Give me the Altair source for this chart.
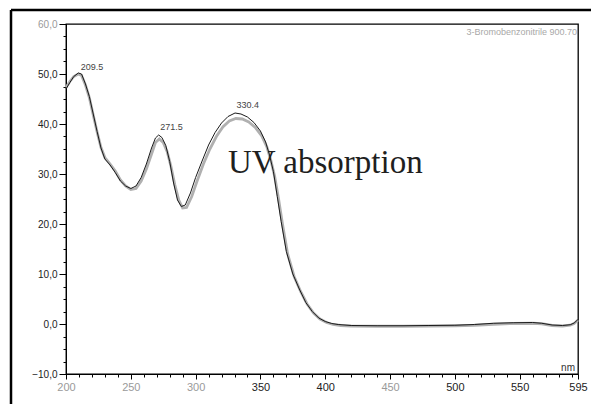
import altair as alt
import pandas as pd

# ---- data ----
black_nm = [200, 203, 206, 209.5, 212, 215, 218, 221, 224, 227, 230, 234, 238, 242, 246, 250,
            254, 258, 262, 266, 269, 271.5, 274, 277, 280, 283, 286, 289, 292, 296, 300, 305,
            310, 315, 320, 325, 330.4, 335, 340, 345, 350, 354, 357, 360, 363, 366, 370, 375,
            380, 385, 390, 395, 400, 405, 410, 420, 440, 460, 480, 500, 515, 530, 545, 560,
            567, 575, 583, 589, 592, 595]
black_val = [47.0, 48.3, 49.5, 50.2, 50.0, 48.0, 45.5, 42.0, 38.5, 35.2, 33.0, 31.8, 30.3, 28.6, 27.6, 27.1,
             27.6, 29.3, 32.0, 35.2, 37.2, 37.8, 37.3, 35.7, 32.5, 28.2, 24.8, 23.5, 23.8, 26.2, 29.3, 32.6,
             35.8, 38.3, 40.2, 41.5, 42.2, 42.0, 41.4, 40.3, 38.6, 36.4, 33.8, 30.5, 25.5, 20.5, 14.5, 10.0,
             7.0, 4.3, 2.5, 1.2, 0.5, 0.1, -0.1, -0.3, -0.35, -0.35, -0.3, -0.25, -0.1, 0.15, 0.25, 0.3,
             0.15, -0.2, -0.3, -0.15, 0.2, 0.9]

gray_nm = [200, 203, 206, 209.5, 212, 215, 218, 221, 224, 227, 230, 234, 238, 242, 246, 250,
           254, 258, 262, 266, 269, 272, 275, 278, 281, 284, 287, 290, 293, 297, 301, 306,
           311, 316, 321, 326, 331, 336, 341, 346, 351, 355, 358, 361, 364, 367, 371, 376,
           381, 386, 391, 396, 401, 406, 412, 420, 440, 460, 480, 500, 515, 530, 545, 560,
           567, 575, 583, 589, 592, 595]
gray_val = [47.3, 48.5, 49.5, 50.0, 49.7, 47.8, 45.3, 41.8, 38.4, 35.3, 33.3, 32.0, 30.6, 28.8, 27.6, 26.9,
            27.1, 28.6, 31.0, 34.0, 36.3, 37.0, 36.3, 34.5, 31.5, 27.8, 24.8, 23.2, 23.3, 25.5, 28.5, 32.0,
            35.0, 37.5, 39.4, 40.6, 41.1, 41.0, 40.4, 39.3, 37.6, 35.4, 32.8, 29.5, 25.0, 20.0, 14.0, 9.5,
            6.5, 4.0, 2.2, 1.0, 0.3, -0.1, -0.3, -0.4, -0.45, -0.45, -0.4, -0.35, -0.25, -0.05, 0.1, 0.15,
            0.05, -0.3, -0.4, -0.25, 0.1, 0.8]

peak_nm = [209.5, 271.5, 330.4]
peak_val = [50.2, 37.8, 42.2]
peak_label = ["209.5", "271.5", "330.4"]
peak_dx = [2.5, 1.5, 1.5]
peak_dy = [-1.5, -3.5, -3.0]

x_ticks = list(range(200, 600, 10)) + [595]
y_ticks = [v / 2 for v in range(-20, 121, 5)]

black_df = pd.DataFrame({"nm": black_nm, "val": black_val})
gray_df = pd.DataFrame({"nm": gray_nm, "val": gray_val})

xscale = alt.Scale(domain=[200, 595], nice=False, zero=False)
yscale = alt.Scale(domain=[-10, 60], nice=False, zero=False)

x_axis = alt.Axis(
    values=x_ticks, title=None, grid=False,
    labelExpr="(datum.value % 50 == 0 || datum.value == 595) ? datum.value : ''",
    labelOverlap=False, labelFlush=False,
    tickSize={"condition": {"test": "datum.value % 50 == 0 || datum.value == 595", "value": 5}, "value": 3},
    labelColor={"condition": {"test": "datum.value == 200 || datum.value == 250 || datum.value == 300 || datum.value == 450", "value": "#9a9a9a"}, "value": "#222222"},
    labelFont="Liberation Sans", labelFontSize=11, labelPadding=2,
    domainColor="black", tickColor="black",
)
y_axis = alt.Axis(
    values=y_ticks, title=None, grid=False,
    labelExpr="datum.value % 10 == 0 ? replace(format(datum.value, '.1f'), '.', ',') : ''",
    labelOverlap=False, labelFlush=False,
    tickSize={"condition": {"test": "datum.value % 10 == 0", "value": 7}, "value": 3},
    labelColor={"condition": {"test": "datum.value == 60", "value": "#9a9a9a"}, "value": "#222222"},
    labelFont="Liberation Sans", labelFontSize=10, labelPadding=2,
    domainColor="black", tickColor="black",
)

X = alt.X("nm:Q", scale=xscale, axis=x_axis)
Y = alt.Y("val:Q", scale=yscale, axis=y_axis)

gray_line = alt.Chart(gray_df).mark_line(color="#b0b0b0", strokeWidth=2.8).encode(x=X, y=Y)
black_line = alt.Chart(black_df).mark_line(color="#1a1a1a", strokeWidth=1.0).encode(x=X, y=Y)

peaks_df = pd.DataFrame({"nm": peak_nm, "val": peak_val, "label": peak_label})
peak_layers = []
for i in range(len(peak_nm)):
    peak_layers.append(
        alt.Chart(peaks_df.iloc[[i]]).mark_text(
            align="left", baseline="bottom", dx=peak_dx[i], dy=peak_dy[i],
            font="Liberation Sans", fontSize=9, color="#444444",
        ).encode(x=X, y=Y, text="label:N")
    )

nm_df = pd.DataFrame({"nm": [595], "val": [-10], "label": ["nm"]})
nm_text = alt.Chart(nm_df).mark_text(
    align="right", baseline="bottom", dx=-3, dy=-1, font="Liberation Sans", fontSize=10, color="#333333"
).encode(x=X, y=Y, text="label:N")

hdr_df = pd.DataFrame({"nm": [595], "val": [60], "label": ["3-Bromobenzonitrile 900.70"]})
hdr_text = alt.Chart(hdr_df).mark_text(
    align="right", baseline="top", dx=-1, dy=4, font="Liberation Sans", fontSize=9, color="#a8a8a8"
).encode(x=X, y=Y, text="label:N")

uv_text = alt.Chart(pd.DataFrame({"t": ["UV absorption"]})).mark_text(
    align="left", baseline="alphabetic", font="Liberation Serif", fontSize=33, color="#1f1f1f"
).encode(x=alt.value(162), y=alt.value(149), text="t:N")

frame_left = alt.Chart(pd.DataFrame({"a": [0]})).mark_rule(color="black", strokeWidth=2.5).encode(
    x=alt.value(-55), y=alt.value(-14), y2=alt.value(390)
)
frame_top = alt.Chart(pd.DataFrame({"a": [0]})).mark_rule(color="black", strokeWidth=2.5).encode(
    x=alt.value(-55), x2=alt.value(530), y=alt.value(-14)
)

chart = alt.layer(
    gray_line, black_line, *peak_layers, nm_text, hdr_text, uv_text, frame_left, frame_top
).properties(
    width=512, height=350,
    padding={"left": 58, "top": 16, "right": 13, "bottom": 30},
    autosize="none",
    background="white",
).configure_view(stroke="black", strokeWidth=1.3).configure_axis(labelOverlap=False)

chart.save("out.html", embed_options={"renderer": "svg", "actions": False})
